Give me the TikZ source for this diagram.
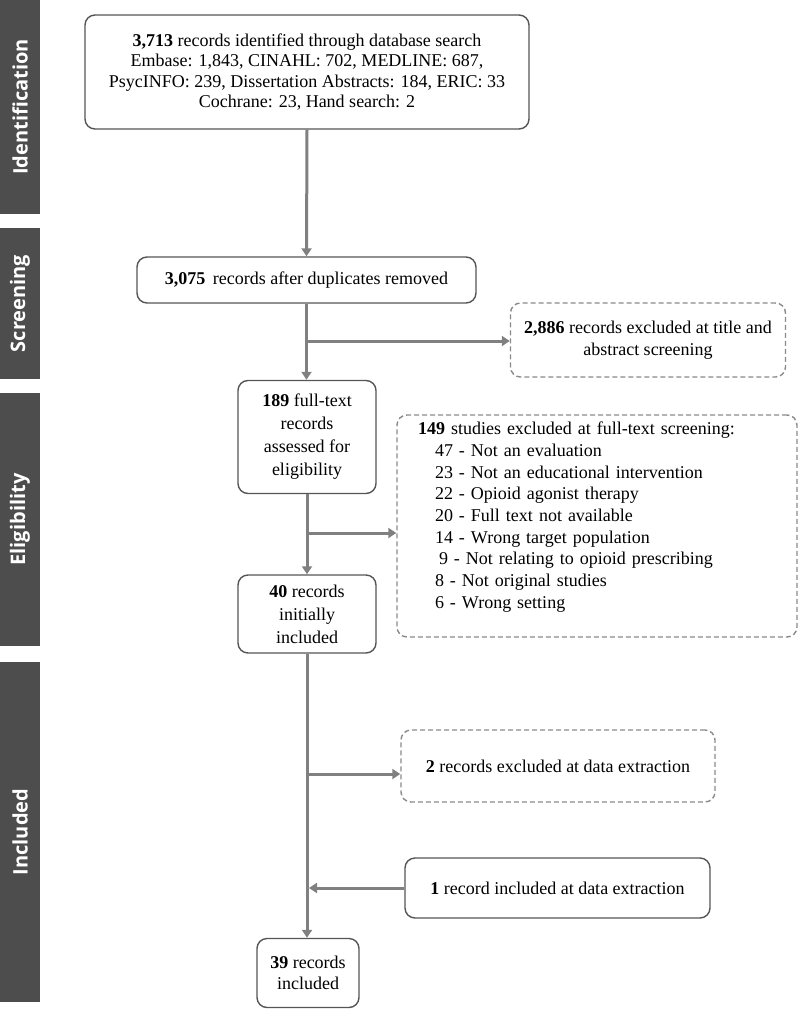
\documentclass[tikz,border=0pt]{standalone}
\usepackage{fontspec}
\setmainfont{Liberation Serif}
\newfontfamily\sidefont{Open Sans}
\usetikzlibrary{arrows.meta}
\definecolor{barc}{HTML}{4D4D4D}
\definecolor{linec}{HTML}{808080}
\definecolor{boxc}{HTML}{555555}
\definecolor{dashc}{HTML}{8A8A8A}
\begin{document}
\begin{tikzpicture}[x=1pt,y=-1pt,
 every node/.style={font=\fontsize{18}{21}\selectfont, inner sep=0pt},
 solidbox/.style={draw=boxc, line width=1.4pt, rounded corners=10pt, align=center},
 dashbox/.style={draw=dashc, line width=1.4pt, dash pattern=on 5pt off 3pt, rounded corners=10pt, align=center},
 bar/.style={fill=barc, draw=none, rotate=90, minimum height=40pt, text=white, font=\sidefont\bfseries\fontsize{20}{24}\selectfont},
 conn/.style={draw=linec, line width=3pt},
 arr/.style={conn, -{Triangle[width=10pt,length=8pt]}},
]
\useasboundingbox (0,0) rectangle (800,1010);

% side bars
\node[bar, minimum width=214pt] (idb) at (20,107) {Identification};
\node[bar, minimum width=151pt] (scb) at (20,303.5) {Screening};
\node[bar, minimum width=253pt] (elb) at (20,519.5) {Eligibility};
\node[bar, minimum width=340pt] (inb) at (20,832) {Included};

% boxes
\node[solidbox, minimum width=444pt, minimum height=114pt, font=\fontsize{18}{20.5}\selectfont] (top) at (307,72)
 {\textbf{3,713} records identified through database search\\
  Embase: 1,843, CINAHL: 702, MEDLINE: 687,\\
  PsycINFO: 239, Dissertation Abstracts: 184, ERIC: 33\\
  Cochrane: 23, Hand search: 2};
\node[solidbox, minimum width=339pt, minimum height=46pt] (dup) at (306.5,280)
 {\textbf{3,075}\, records after duplicates removed};
\node[dashbox, minimum width=275pt, minimum height=74pt, font=\fontsize{18}{22}\selectfont] (ex1) at (648,340)
 {\textbf{2,886} records excluded at title and\\ abstract screening};
\node[solidbox, minimum width=138pt, minimum height=113pt, font=\fontsize{18}{23}\selectfont] (full) at (307,437)
 {\textbf{189} full-text\\ records\\ assessed for\\ eligibility};
\node[dashbox, minimum width=400pt, minimum height=222pt, text width=358pt, align=left,
 font=\fontsize{18}{21.7}\selectfont] (ex2) at (597,526)
 {\textbf{149} studies excluded at full-text screening:\\
  \hspace*{17pt}47 - Not an evaluation\\
  \hspace*{17pt}23 - Not an educational intervention\\
  \hspace*{17pt}22 - Opioid agonist therapy\\
  \hspace*{17pt}20 - Full text not available\\
  \hspace*{17pt}14 - Wrong target population\\
  \hspace*{21pt}9 - Not relating to opioid prescribing\\
  \hspace*{17pt}8 - Not original studies\\
  \hspace*{17pt}6 - Wrong setting\\
  \mbox{}};
\node[solidbox, minimum width=138pt, minimum height=78pt, font=\fontsize{18}{23}\selectfont] (init) at (307,614)
 {\textbf{40} records\\ initially\\ included};
\node[dashbox, minimum width=314pt, minimum height=72pt] (ex3) at (558,766)
 {\textbf{2} records excluded at data extraction};
\node[solidbox, minimum width=305pt, minimum height=60pt] (add) at (557.5,888)
 {\textbf{1} record included at data extraction};
\node[solidbox, minimum width=102pt, minimum height=69pt] (fin) at (308,973)
 {\textbf{39} records\\ included};

% junctions
\coordinate (j1) at (307,341);
\coordinate (j2) at (307,533);
\coordinate (j3) at (307,774);
\coordinate (j4) at (309,888);

% connectors
\draw[arr] (top.south) -- (dup.north);
\draw[arr] (dup.south) -- (dup.south |- full.north);
\draw[arr] (j1) -- (j1 -| ex1.west);
\draw[arr] (full.south) -- (init.north);
\draw[arr] (j2) -- (j2 -| ex2.west);
\draw[arr] (init.south) -- (init.south |- fin.north);
\draw[arr] (j3) -- (j3 -| ex3.west);
\draw[arr] (add.west) -- (j4);
\end{tikzpicture}
\end{document}
